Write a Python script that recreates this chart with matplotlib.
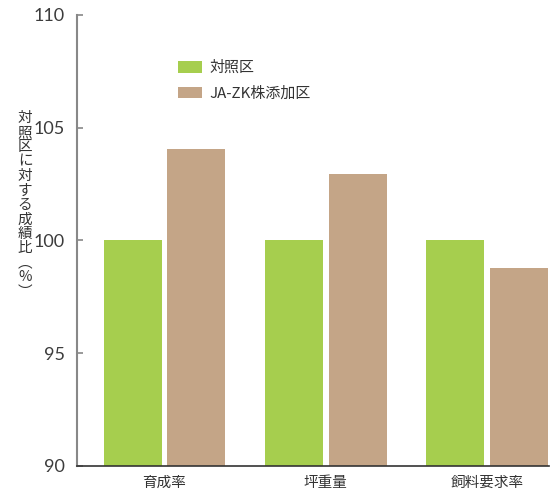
import matplotlib
matplotlib.use("Agg")
import matplotlib.pyplot as plt
import numpy as np

categories = ["育成率", "坪重量", "飼料要求率"]
series_names = ["対照区", "JA-ZK株添加区"]
control = [100, 100, 100]
treated = [104.05, 102.95, 98.8]
yticks = [90, 95, 100, 105, 110]
ylabel = "対照区に対する成績比︵%︶"

green = "#A6CE4E"
brown = "#C4A587"
cjk = ["Noto Sans CJK JP", "DejaVu Sans"]
plt.rcParams['font.family'] = cjk

fig = plt.figure(figsize=(5.5, 4.91), dpi=100)
ax = fig.add_axes([77/550, 1-466/491, (549-77)/550, (466-15)/491])

x = np.arange(len(categories))
w = 0.36
off = 0.198
ax.bar(x - off, np.array(control) - 90, w, bottom=90, color=green, label=series_names[0])
ax.bar(x + off, np.array(treated) - 90, w, bottom=90, color=brown, label=series_names[1])

ax.set_ylim(90, 110)
ax.set_xlim((77-164.5)/161.3, (549-164.5)/161.3)
ax.set_yticks(yticks)
ax.set_yticklabels([str(t) for t in yticks], fontsize=13, color="#3c3c3c",
                   family=["Lato", "DejaVu Sans"], fontweight="normal")
ax.set_xticks(x)
ax.set_xticklabels(categories, fontsize=10.5, color="#333333")
ax.tick_params(axis='x', length=0, pad=7)
ax.tick_params(axis='y', direction='in', length=4, width=1.2, color="#888888", pad=9)

for s in ["top", "right"]:
    ax.spines[s].set_visible(False)
ax.spines["left"].set_color("#888888")
ax.spines["left"].set_linewidth(1.5)
ax.spines["bottom"].set_color("#333333")
ax.spines["bottom"].set_linewidth(1.2)

fig.text(25/550, 1-205/491, "\n".join(ylabel), ha="center", va="center",
         fontsize=10.5, color="#333333", linespacing=1.04)

leg = ax.legend(loc="upper left", bbox_to_anchor=(178/550, 1-61/491),
                bbox_transform=fig.transFigure, frameon=False, fontsize=10.8,
                handlelength=1.6, handleheight=0.8, handletextpad=0.5,
                labelspacing=0.75, borderpad=0, borderaxespad=0)
for t in leg.get_texts():
    t.set_color("#333333")

fig.savefig("out.png", dpi=100)
